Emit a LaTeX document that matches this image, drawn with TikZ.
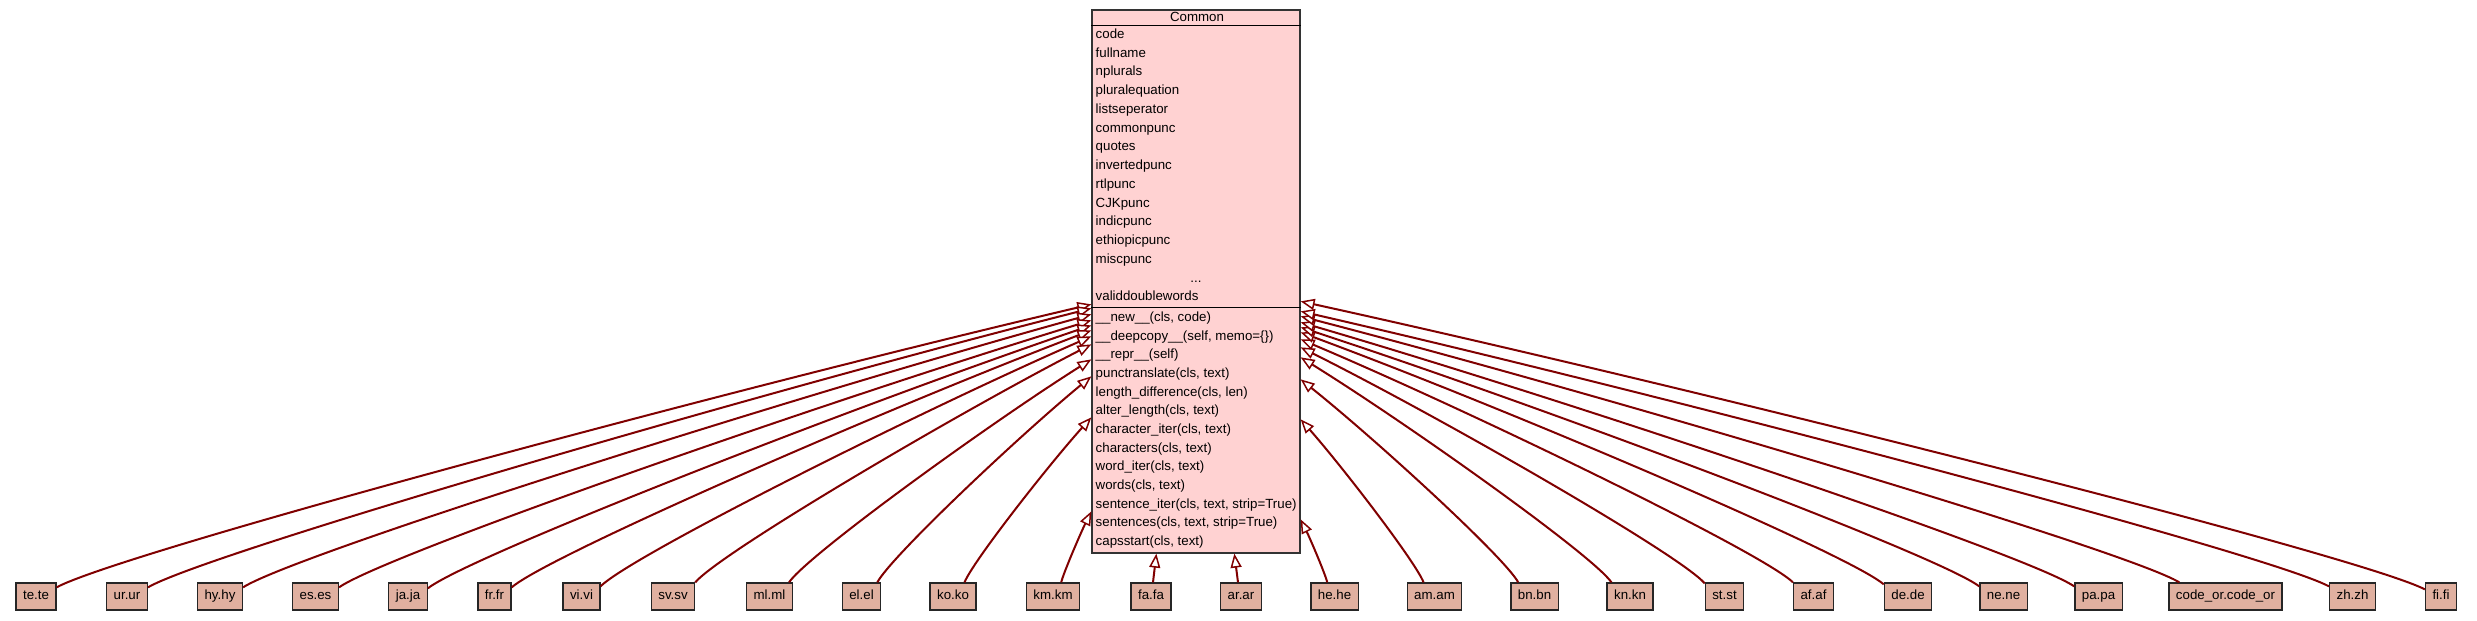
\documentclass[tikz,border=0pt]{standalone}
\usepackage{fontspec}
\setmainfont{Liberation Sans}
\usetikzlibrary{arrows.meta,calc}
\definecolor{edgered}{RGB}{128,0,0}
\definecolor{commonfill}{RGB}{255,210,210}
\definecolor{childfill}{RGB}{224,176,160}
\begin{document}
\begin{tikzpicture}[x=1pt,y=-1pt,
  font=\fontsize{13.3}{16}\selectfont,
  commonbox/.style={draw=black!80, fill=commonfill, line width=1.3pt, minimum width=208pt, minimum height=543pt, inner sep=0pt},
  childbox/.style={draw=black!85, fill=childfill, line width=1.3pt, minimum height=27pt, inner xsep=7pt, inner ysep=0pt, text height=9.5pt, text depth=2.8pt},
  rowtext/.style={anchor=west, inner sep=0pt, text height=9.5pt, text depth=2.8pt},
  inherit/.style={draw=edgered, line width=2pt, -{Triangle[length=14pt,width=11pt,fill=white,line width=1.5pt]}},
  curved/.style={to path={let \p1=(\tikztostart), \p2=(\tikztotarget) in .. controls ({\x1+0.06*(\x2-\x1)},{\y1+0.12*(\y2-\y1)}) and ({\x2-0.35*(\x2-\x1)},{\y2-0.3*(\y2-\y1)}) .. (\tikztotarget)}}
]
\useasboundingbox (0,0) rectangle (2477,621);
% Common class box
\node[commonbox] (common) at (1196,281.5) {};
\draw[line width=1.3pt] ($(common.north west)+(0,16)$) -- ($(common.north east)+(0,16)$);
\draw[line width=1.3pt] ($(common.north west)+(0,298)$) -- ($(common.north east)+(0,298)$);
\node[inner sep=0pt, text height=9.5pt, text depth=2.8pt] (title) at (1197,18) {Common};
\foreach \t [count=\i from 0] in {code,fullname,nplurals,pluralequation,listseperator,commonpunc,quotes,invertedpunc,rtlpunc,CJKpunc,indicpunc,ethiopicpunc,miscpunc}
  \node[rowtext] (a\i) at (1095.5,{35+18.75*\i}) {\t};
\node[inner sep=0pt, text height=9.5pt, text depth=2.8pt] (dots) at (1196,{35+18.75*13}) {...};
\node[rowtext] (a14) at (1095.5,{35+18.75*14}) {validdoublewords};
\foreach \t [count=\i from 0] in {\_\_new\_\_(cls{,} code),\_\_deepcopy\_\_(self{,} memo=\{\}),\_\_repr\_\_(self),punctranslate(cls{,} text),length\_difference(cls{,} len),alter\_length(cls{,} text),character\_iter(cls{,} text),characters(cls{,} text),word\_iter(cls{,} text),words(cls{,} text),sentence\_iter(cls{,} text{,} strip=True),sentences(cls{,} text{,} strip=True),capsstart(cls{,} text)}
  \node[rowtext] (m\i) at (1095.5,{318+18.67*\i}) {\t};
% child classes
\foreach \c/\l/\cx in {te/te.te/36, ur/ur.ur/127, hy/hy.hy/220, es/es.es/315.5, ja/ja.ja/408, fr/fr.fr/494.5, vi/vi.vi/581.5, sv/sv.sv/673, ml/ml.ml/769.5, el/el.el/861.5, ko/ko.ko/953, km/km.km/1053, fa/fa.fa/1151, ar/ar.ar/1241, he/he.he/1334.5, am/am.am/1434.5, bn/bn.bn/1534.5, kn/kn.kn/1630, st/st.st/1724.5, af/af.af/1813.5, de/de.de/1908, ne/ne.ne/2003.5, pa/pa.pa/2098.5, cor/code\_or.code\_or/2225.5, zh/zh.zh/2352.5, fi/fi.fi/2441}
  \node[childbox] (\c) at (\cx,596.5) {\l};
% inheritance edges, left side
\foreach \c/\dx/\dy/\ty in {te/0/5/305, ur/0/5/309, hy/0/5/315, es/0/5/321, ja/0/6/326, fr/0/5/331, vi/0/4/337, sv/0/0/345, ml/-4/0/360, el/-4/0/377, ko/-12/0/418, km/-19/0/512}{
  \coordinate (tip\c) at ($(common.north west)+(0,\ty-10)$);
  \coordinate (src\c) at ([shift={(\dx,\dy)}]\c.north east);
  \edef\temp{\noexpand\draw[inherit] (src\c) to[curved] (tip\c);}\temp
}
% inheritance edges, right side
\foreach \c/\dx/\dy/\ty in {he/17/0/520, am/17/0/420, bn/8/0/380, kn/5/0/358, st/0/1/348, af/0/0/340, de/0/2/333, ne/0/4/328, pa/0/4/323, cor/11/0/317, zh/0/4/312, fi/0/7/302}{
  \coordinate (tip\c) at ($(common.north east)+(0,\ty-10)$);
  \coordinate (src\c) at ([shift={(\dx,\dy)}]\c.north west);
  \edef\temp{\noexpand\draw[inherit] (src\c) to[curved] (tip\c);}\temp
}
% inheritance edges, bottom
\coordinate (tipfa) at ($(common.south west)+(65,0)$);
\coordinate (tipar) at ($(common.south west)+(143,0)$);
\draw[inherit] ([shift={(2,0)}]fa.north) -- (tipfa);
\draw[inherit] ([shift={(-3,0)}]ar.north) -- (tipar);
\end{tikzpicture}
\end{document}
